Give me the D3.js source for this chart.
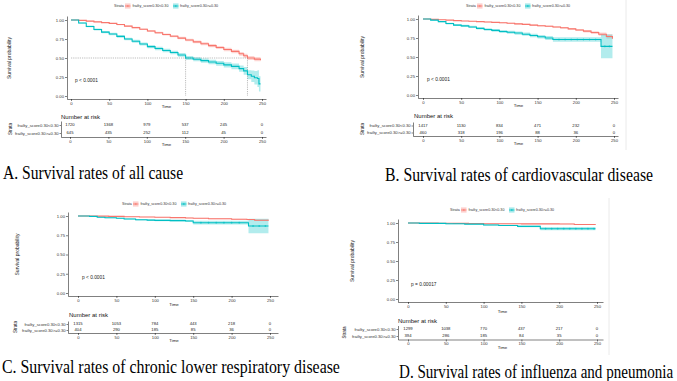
<!DOCTYPE html>
<html>
<head>
<meta charset="utf-8">
<script src="https://cdn.jsdelivr.net/npm/d3@7"></script>
<style>
  body { margin: 0; background: #fff; }
  svg { display: block; font-family: "Liberation Sans", Arial, sans-serif; }
  .axis path, .axis line { stroke: #000; stroke-width: 0.5; }
  .axis text { font-size: 4.2px; fill: #333; }
</style>
</head>
<body>
<svg id="chart" width="677" height="381"></svg>
<script>
// shared labels
var strataNames = ["frailty_score0.30<0.30", "frailty_score0.30>=0.30"];
var timeTicks = [0, 50, 100, 150, 200, 250];
var survTicks = [0, 0.25, 0.5, 0.75, 1];
var pValues = ["p < 0.0001", "p < 0.0001", "p < 0.0001", "p = 0.00017"];
var captions = [
  "A. Survival rates of all cause",
  "B. Survival rates of cardiovascular disease",
  "C. Survival rates of chronic lower respiratory disease",
  "D. Survival rates of influenza and pneumonia"
];
var colors = ["#F8766D", "#00BFC4"];

// A - all cause
var aRedT  = [0,10,20,30,40,50,60,70,80,90,100,110,120,130,140,150,160,170,180,190,200,210,220,226,231,240,248];
var aRedS  = [1,0.995,0.985,0.975,0.965,0.955,0.94,0.92,0.9,0.878,0.855,0.832,0.81,0.787,0.762,0.737,0.712,0.688,0.663,0.638,0.612,0.587,0.555,0.53,0.5,0.485,0.47];
var aRedCI = [0,0.003,0.004,0.005,0.006,0.007,0.008,0.009,0.01,0.011,0.012,0.013,0.014,0.015,0.016,0.017,0.018,0.019,0.02,0.021,0.022,0.023,0.025,0.026,0.027,0.028,0.03];
var aCyanT  = [0,10,20,30,40,50,60,70,80,90,100,110,120,130,140,150,160,170,180,190,200,210,220,226,231,236,240,244,246,248];
var aCyanS  = [1,0.96,0.915,0.875,0.84,0.815,0.785,0.75,0.72,0.685,0.65,0.625,0.598,0.572,0.54,0.5,0.483,0.465,0.448,0.43,0.41,0.39,0.36,0.33,0.28,0.26,0.24,0.23,0.16,0.16];
var aCyanCI = [0,0.008,0.011,0.013,0.015,0.016,0.017,0.018,0.019,0.02,0.021,0.022,0.023,0.024,0.025,0.026,0.027,0.028,0.03,0.032,0.034,0.037,0.042,0.05,0.06,0.075,0.09,0.11,0.1,0.1];
var aCyanCens = [];
var medianA = [231, 150];
var riskA = [[1720,1368,979,537,245,0],[645,435,252,112,45,0]];

// B - cardiovascular disease
var bRedT  = [0,10,20,30,40,50,60,70,80,90,100,110,120,130,140,150,160,170,180,190,200,210,220,230,240,248];
var bRedS  = [1,0.995,0.99,0.985,0.979,0.974,0.97,0.965,0.96,0.955,0.95,0.944,0.936,0.929,0.92,0.911,0.904,0.895,0.884,0.87,0.856,0.84,0.822,0.8,0.77,0.74];
var bRedCI = [0,0.002,0.003,0.003,0.004,0.004,0.005,0.005,0.006,0.006,0.007,0.007,0.008,0.008,0.009,0.009,0.01,0.011,0.012,0.013,0.014,0.016,0.018,0.022,0.028,0.035];
var bCyanT  = [0,10,20,30,40,50,60,70,80,90,100,110,120,130,140,150,160,170,233,248];
var bCyanS  = [1,0.985,0.965,0.94,0.92,0.91,0.895,0.877,0.862,0.85,0.836,0.825,0.815,0.8,0.782,0.766,0.75,0.73,0.64,0.64];
var bCyanCI = [0,0.006,0.009,0.011,0.013,0.014,0.015,0.016,0.017,0.018,0.019,0.02,0.021,0.022,0.023,0.024,0.025,0.03,0.155,0.155];
var bCyanCens = [178,186,194,202,210,218,226,238,244];
var riskB = [[1417,1130,834,471,232,0],[460,318,196,88,36,0]];

// C - chronic lower respiratory disease
var cRedT  = [0,20,40,60,80,100,120,140,150,170,200,220,230,248];
var cRedS  = [1,0.998,0.995,0.99,0.987,0.983,0.979,0.975,0.97,0.965,0.957,0.954,0.945,0.94];
var cRedCI = [0,0.001,0.002,0.003,0.003,0.004,0.004,0.005,0.005,0.006,0.007,0.008,0.01,0.012];
var cCyanT  = [0,15,25,35,50,60,75,90,100,120,140,150,222,248];
var cCyanS  = [1,0.995,0.984,0.978,0.97,0.962,0.952,0.947,0.943,0.94,0.935,0.913,0.87,0.87];
var cCyanCI = [0,0.004,0.006,0.007,0.008,0.009,0.01,0.011,0.012,0.013,0.014,0.025,0.095,0.095];
var cCyanCens = [160,170,180,190,200,210,228,236,244];
var riskC = [[1315,1053,784,443,218,0],[404,290,185,85,36,0]];

// D - influenza and pneumonia
var dRedT  = [0,20,40,60,80,100,150,200,220,248];
var dRedS  = [1,0.999,0.997,0.995,0.993,0.99,0.988,0.987,0.981,0.98];
var dRedCI = [0,0.001,0.002,0.002,0.003,0.003,0.004,0.005,0.007,0.008];
var dCyanT  = [0,15,50,75,100,120,145,175,248];
var dCyanS  = [1,0.995,0.99,0.985,0.974,0.968,0.956,0.925,0.925];
var dCyanCI = [0,0.003,0.005,0.006,0.008,0.009,0.011,0.022,0.022];
var dCyanCens = [182,190,198,206,214,222,230,238,246];
var riskD = [[1299,1038,770,437,217,0],[394,286,185,84,35,0]];

var svg = d3.select("#chart");
svg.append("rect").attr("width", 677).attr("height", 381).attr("fill", "#fff");

var panels = [
  { curves: [{t: aRedT, s: aRedS, ci: aRedCI, cens: []}, {t: aCyanT, s: aCyanS, ci: aCyanCI, cens: aCyanCens}],
    risk: riskA, p: pValues[0], caption: captions[0], median: medianA,
    lay: {x0: 71, x1: 262, ax0: 67, ax1: 266, y0: 96, y1: 20, ay0: 99, ay1: 16, legX: 114, legY: 6,
          yLabX: 10, pX: 75, pY: 81, timeY: 108, tTop: 121, tBot: 137, tx0: 70, tx1: 262, tAx0: 61,
          titleX: 61, titleY: 117, tTimeY: 146, strataX: 11, capX: 3, capY: 179, capW: 180} },
  { curves: [{t: bRedT, s: bRedS, ci: bRedCI, cens: []}, {t: bCyanT, s: bCyanS, ci: bCyanCI, cens: bCyanCens}],
    risk: riskB, p: pValues[1], caption: captions[1], median: null,
    lay: {x0: 423, x1: 614, ax0: 418, ax1: 618, y0: 95, y1: 19, ay0: 98, ay1: 15, legX: 466, legY: 6,
          yLabX: 363, pX: 427, pY: 80, timeY: 107, tTop: 122, tBot: 136, tx0: 423, tx1: 614, tAx0: 413,
          titleX: 414, titleY: 116, tTimeY: 145, strataX: 363, capX: 385, capY: 181, capW: 268,
          border: [626, 0, 150]} },
  { curves: [{t: cRedT, s: cRedS, ci: cRedCI, cens: []}, {t: cCyanT, s: cCyanS, ci: cCyanCI, cens: cCyanCens}],
    risk: riskC, p: pValues[2], caption: captions[2], median: null,
    lay: {x0: 78, x1: 270, ax0: 68, ax1: 278, y0: 293, y1: 216, ay0: 296, ay1: 212, legX: 122, legY: 204,
          yLabX: 18, pX: 82, pY: 278, timeY: 306, tTop: 321, tBot: 333, tx0: 78, tx1: 270, tAx0: 68,
          titleX: 69, titleY: 315, tTimeY: 342, strataX: 16, capX: 2, capY: 372.5, capW: 338} },
  { curves: [{t: dRedT, s: dRedS, ci: dRedCI, cens: []}, {t: dCyanT, s: dCyanS, ci: dCyanCI, cens: dCyanCens}],
    risk: riskD, p: pValues[3], caption: captions[3], median: null,
    lay: {x0: 408, x1: 597, ax0: 398, ax1: 603, y0: 299, y1: 223, ay0: 302, ay1: 219, legX: 450, legY: 210,
          yLabX: 353, pX: 411, pY: 285, timeY: 312.5, tTop: 325.5, tBot: 339.5, tx0: 408, tx1: 597, tAx0: 398,
          titleX: 398, titleY: 321, tTimeY: 348.5, strataX: 345, capX: 399, capY: 378, capW: 274,
          border: [609, 198, 355]} }
];

function stepValue(c, t) {
  var idx = d3.bisectRight(c.t, t) - 1;
  return c.s[Math.max(0, idx)];
}

function styleAxis(sel) {
  sel.attr("class", "axis");
  sel.selectAll(".tick line").attr("stroke", "#333");
}

function drawPanel(p) {
  var L = p.lay;
  var g = svg.append("g");

  var x = d3.scaleLinear().domain([0, 250]).range([L.x0, L.x1]);
  var y = d3.scaleLinear().domain([0, 1]).range([L.y0, L.y1]);
  var xAx = x.copy().domain([x.invert(L.ax0), x.invert(L.ax1)]).range([L.ax0, L.ax1]);
  var yAx = y.copy().domain([y.invert(L.ay0), y.invert(L.ay1)]).range([L.ay0, L.ay1]);

  if (L.border) {
    g.append("line").attr("x1", L.border[0]).attr("x2", L.border[0])
      .attr("y1", L.border[1]).attr("y2", L.border[2])
      .attr("stroke", "#e4e4e4").attr("stroke-width", 0.8);
  }

  // confidence ribbons
  p.curves.forEach(function(c, i) {
    var pts = c.t.map(function(t, j) { return {t: t, s: c.s[j], w: c.ci[j]}; });
    var band = d3.area().curve(d3.curveStepAfter)
      .x(function(d) { return x(d.t); })
      .y0(function(d) { return y(Math.max(0, d.s - d.w)); })
      .y1(function(d) { return y(Math.min(1, d.s + d.w)); });
    g.append("path").datum(pts).attr("d", band)
      .attr("fill", colors[i]).attr("opacity", 0.3);
  });

  // median lines
  if (p.median) {
    var mMax = d3.max(p.median);
    g.append("line").attr("x1", x(0)).attr("x2", x(mMax)).attr("y1", y(0.5)).attr("y2", y(0.5))
      .attr("stroke", "#555").attr("stroke-width", 0.4).attr("stroke-dasharray", "1.2,1");
    p.median.forEach(function(m) {
      g.append("line").attr("x1", x(m)).attr("x2", x(m)).attr("y1", y(0.5)).attr("y2", y(0))
        .attr("stroke", "#555").attr("stroke-width", 0.4).attr("stroke-dasharray", "1.2,1");
    });
  }

  // survival curves
  p.curves.forEach(function(c, i) {
    var pts = c.t.map(function(t, j) { return {t: t, s: c.s[j]}; });
    var line = d3.line().curve(d3.curveStepAfter)
      .x(function(d) { return x(d.t); })
      .y(function(d) { return y(d.s); });
    g.append("path").datum(pts).attr("d", line)
      .attr("fill", "none").attr("stroke", colors[i]).attr("stroke-width", 1.1);
    c.cens.forEach(function(t) {
      var cx = x(t), cy = y(stepValue(c, t));
      g.append("path").attr("d", "M" + (cx - 1) + "," + cy + "h2M" + cx + "," + (cy - 1) + "v2")
        .attr("stroke", colors[i]).attr("stroke-width", 0.5);
    });
  });

  // axes
  g.append("g").attr("transform", "translate(0," + L.ay0 + ")")
    .call(d3.axisBottom(xAx).tickValues(timeTicks).tickSize(2).tickPadding(1).tickSizeOuter(0))
    .call(styleAxis);
  g.append("g").attr("transform", "translate(" + L.ax0 + ",0)")
    .call(d3.axisLeft(yAx).tickValues(survTicks).tickFormat(d3.format(".2f")).tickSize(2).tickPadding(1).tickSizeOuter(0))
    .call(styleAxis);

  g.append("text").attr("x", (L.x0 + L.x1) / 2).attr("y", L.timeY).attr("text-anchor", "middle")
    .attr("font-size", "4.4px").attr("fill", "#222").text("Time");
  g.append("text").attr("transform", "translate(" + L.yLabX + "," + ((L.y0 + L.y1) / 2) + ") rotate(-90)")
    .attr("text-anchor", "middle").attr("dominant-baseline", "middle")
    .attr("font-size", "5px").attr("fill", "#222").text("Survival probability");
  g.append("text").attr("x", L.pX).attr("y", L.pY).attr("dominant-baseline", "middle")
    .attr("font-size", "4.8px").attr("fill", "#222").text(p.p);

  // legend
  var lg = g.append("g").attr("font-size", "3.65px").attr("fill", "#333");
  lg.append("text").attr("x", L.legX).attr("y", L.legY).attr("dominant-baseline", "middle").text("Strata");
  var keyX = [11, 59], labX = [18.5, 66];
  strataNames.forEach(function(name, i) {
    var kx = L.legX + keyX[i];
    lg.append("rect").attr("x", kx).attr("y", L.legY - 2.6).attr("width", 5.5).attr("height", 5.2)
      .attr("fill", colors[i]).attr("opacity", 0.35);
    lg.append("line").attr("x1", kx).attr("x2", kx + 5.5).attr("y1", L.legY).attr("y2", L.legY)
      .attr("stroke", colors[i]).attr("stroke-width", 0.8);
    lg.append("path").attr("d", "M" + (kx + 1.75) + "," + L.legY + "h2M" + (kx + 2.75) + "," + (L.legY - 1) + "v2")
      .attr("stroke", colors[i]).attr("stroke-width", 0.5);
    lg.append("text").attr("x", L.legX + labX[i]).attr("y", L.legY).attr("dominant-baseline", "middle").text(name);
  });

  // risk table
  var tx = d3.scaleLinear().domain([0, 250]).range([L.tx0, L.tx1]);
  var txAx = tx.copy().domain([tx.invert(L.tAx0), tx.invert(L.ax1)]).range([L.tAx0, L.ax1]);
  var ty = d3.scalePoint().domain(strataNames).range([L.tTop, L.tBot]).padding(0.5);

  g.append("text").attr("x", L.titleX).attr("y", L.titleY).attr("dominant-baseline", "middle")
    .attr("font-size", "6px").attr("fill", "#111").text("Number at risk");

  strataNames.forEach(function(name, i) {
    g.selectAll(null).data(p.risk[i]).enter().append("text")
      .attr("x", function(d, j) { return tx(timeTicks[j]); })
      .attr("y", ty(name))
      .attr("text-anchor", "middle").attr("dominant-baseline", "middle")
      .attr("font-size", "4.2px").attr("fill", "#222")
      .text(function(d) { return d; });
  });

  g.append("g").attr("transform", "translate(0," + L.tBot + ")")
    .call(d3.axisBottom(txAx).tickValues(timeTicks).tickSize(2).tickPadding(1).tickSizeOuter(0))
    .call(styleAxis);
  var ly = g.append("g").attr("transform", "translate(" + L.tAx0 + ",0)")
    .call(d3.axisLeft(ty).tickSize(1.5).tickPadding(0.8).tickSizeOuter(0))
    .call(styleAxis);
  ly.selectAll(".tick text").attr("font-size", "4.3px")
    .attr("fill", function(d, i) { return colors[i]; });

  g.append("text").attr("x", (L.x0 + L.x1) / 2).attr("y", L.tTimeY).attr("text-anchor", "middle")
    .attr("font-size", "4.4px").attr("fill", "#222").text("Time");
  g.append("text").attr("transform", "translate(" + L.strataX + "," + ((L.tTop + L.tBot) / 2) + ") rotate(-90)")
    .attr("text-anchor", "middle").attr("dominant-baseline", "middle")
    .attr("font-size", "4.5px").attr("fill", "#222").text("Strata");

  // caption: fit the width by font size, then stretch a little vertically like the source
  var cap = g.append("text").attr("transform", "translate(" + L.capX + "," + L.capY + ") scale(1,1.18)")
    .attr("font-family", "'Liberation Serif', 'Times New Roman', serif")
    .attr("font-size", "16px").attr("fill", "#000")
    .text(p.caption);
  var natural = cap.node().getComputedTextLength();
  cap.attr("font-size", (16 * L.capW / natural).toFixed(2) + "px");
}

panels.forEach(drawPanel);
</script>
</body>
</html>
